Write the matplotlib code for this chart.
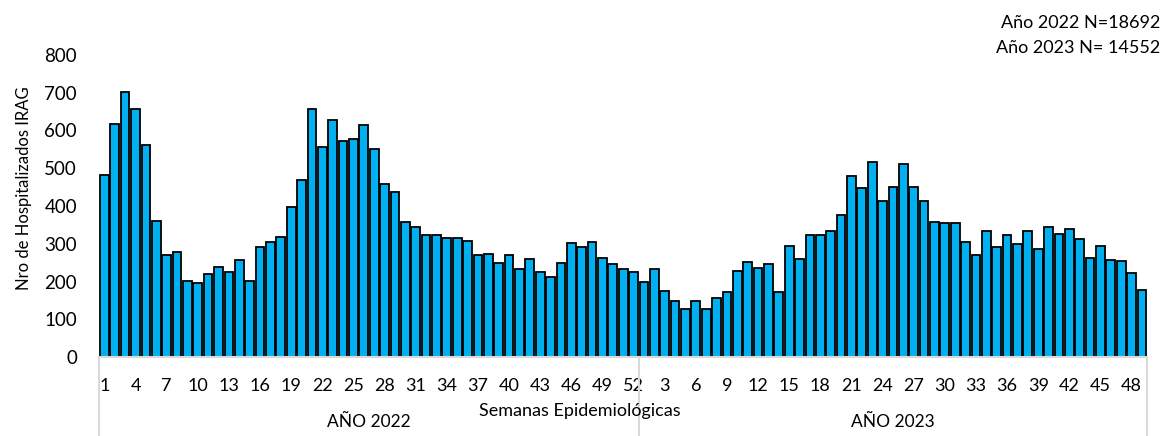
import matplotlib.pyplot as plt

# casos por semana epidemiologica
semanas_2022 = list(range(1, 53))
casos_2022 = [481, 617, 701, 656, 561, 359, 271, 277, 202, 196,
              219, 238, 225, 257, 202, 292, 305, 318, 397, 469,
              656, 556, 627, 572, 577, 615, 551, 459, 437, 358,
              345, 324, 324, 315, 315, 307, 269, 273, 248, 270,
              232, 259, 226, 211, 248, 301, 291, 305, 263, 247,
              232, 224]
semanas_2023 = list(range(1, 50))
casos_2023 = [199, 232, 176, 148, 127, 149, 128, 157, 172, 228,
              251, 237, 247, 173, 294, 261, 322, 322, 335, 376,
              480, 447, 517, 414, 451, 510, 451, 412, 357, 355,
              355, 306, 269, 335, 292, 322, 299, 335, 286, 345,
              326, 339, 312, 263, 294, 257, 254, 223, 178]

etiquetas = [str(s) for s in semanas_2022] + [str(s) for s in semanas_2023]
valores = casos_2022 + casos_2023
n22 = len(casos_2022)

fuente = 'Lato'
gris = '#D9D9D9'

fig = plt.figure(figsize=(11.67, 4.36), dpi=100)
ax = fig.add_axes([0.085, 0.181, 0.898, 0.693])

x = list(range(len(valores)))
ax.bar(x, valores, width=0.84, color='#00B0F0', edgecolor='black', linewidth=1.3)

ax.set_ylim(0, 800)
ax.set_xlim(-0.5, len(valores) - 0.5)
ax.set_yticks(range(0, 801, 100))
ax.set_yticklabels([str(v) for v in range(0, 801, 100)], fontsize=13.5, family=fuente)
ax.set_xticks(x[::3])
ax.set_xticklabels(etiquetas[::3], fontsize=13, family=fuente)
ax.tick_params(axis='both', length=0)
ax.tick_params(axis='x', pad=15)
ax.tick_params(axis='y', pad=16)

for s in ['top', 'right', 'left']:
    ax.spines[s].set_visible(False)
ax.spines['bottom'].set_color(gris)
ax.spines['bottom'].set_linewidth(1.5)

# separadores de anios
tr = ax.get_xaxis_transform()
for xs in [-0.5, n22 - 0.5, len(valores) - 0.5]:
    ax.plot([xs, xs], [0, -0.27], color=gris, lw=1.5, transform=tr, clip_on=False)

ax.text((n22 - 1) / 2, -0.215, 'AÑO 2022', transform=tr, ha='center', va='center',
        fontsize=12.5, family=fuente)
ax.text((n22 + len(valores) - 1) / 2, -0.215, 'AÑO 2023', transform=tr, ha='center',
        va='center', fontsize=12.5, family=fuente)

fig.text(580 / 1167, 1 - 411 / 436, 'Semanas Epidemiológicas', ha='center', va='center',
         fontsize=13, family=fuente)
fig.text(24 / 1167, 1 - 188 / 436, 'Nro de Hospitalizados IRAG', rotation=90,
         ha='center', va='center', fontsize=12, family=fuente)

fig.text(1160 / 1167, 1 - 23 / 436, 'Año 2022 N=18692', ha='right', va='center',
         fontsize=13, family=fuente)
fig.text(1160 / 1167, 1 - 48 / 436, 'Año 2023 N= 14552', ha='right', va='center',
         fontsize=13, family=fuente)

plt.savefig('out.png', dpi=100)
